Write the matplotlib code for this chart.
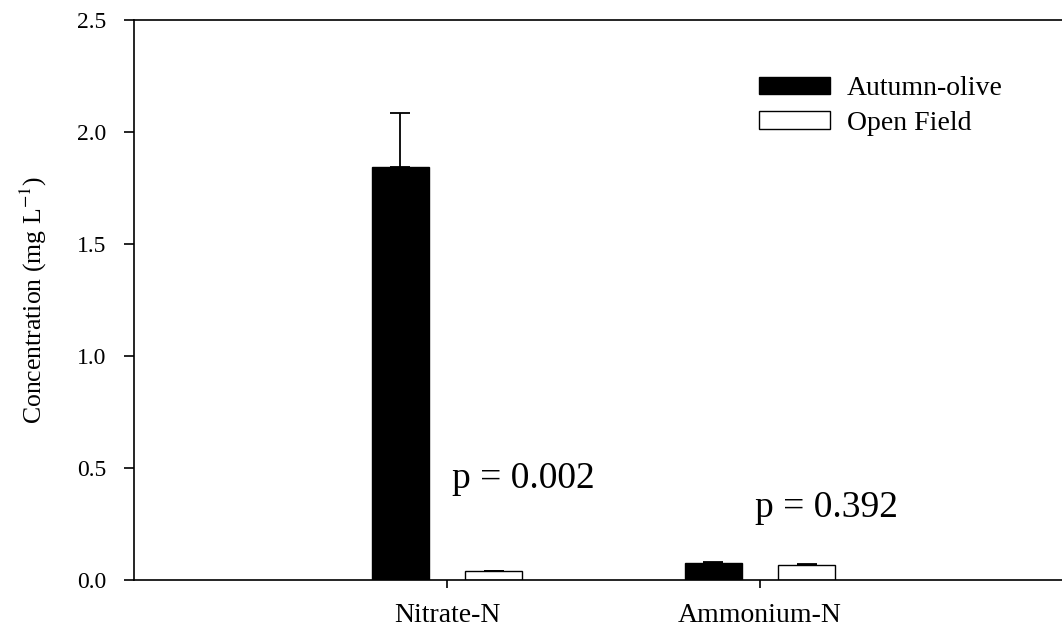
import numpy as np
import matplotlib
matplotlib.use('Agg')
import matplotlib.pyplot as plt
from matplotlib import rcParams

rcParams['font.family'] = ['Liberation Serif', 'DejaVu Serif']
rcParams['mathtext.fontset'] = 'stix'

# data (mg/L)
groups = ['Nitrate-N', 'Ammonium-N']
autumn_olive = [1.844, 0.077]
autumn_olive_err = [0.241, 0.005]
open_field = [0.039, 0.066]
open_field_err = [0.0, 0.004]
pvals = ['p = 0.002', 'p = 0.392']
pval_xy = [(1.016, 0.41), (1.984, 0.281)]

x = np.arange(1, len(groups) + 1)
w = 0.182
off = 0.15

fig = plt.figure(figsize=(10.62, 6.28), dpi=100)
ax = fig.add_axes([134/1062, 48/628, 939/1062, 560/628])

ax.bar(x - off, autumn_olive, w, color='black', edgecolor='black', lw=1,
       label='Autumn-olive')
ax.bar(x + off, open_field, w, color='white', edgecolor='black', lw=1,
       label='Open Field')
# upper error bars only
ax.errorbar(x - off, autumn_olive, yerr=[np.zeros(2), autumn_olive_err],
            fmt='none', ecolor='black', elinewidth=1.3, capsize=7.2,
            capthick=1.3)
ax.errorbar(x + off, open_field, yerr=[np.zeros(2), open_field_err],
            fmt='none', ecolor='black', elinewidth=1.3, capsize=7.2,
            capthick=1.3)

for s, (px, py) in zip(pvals, pval_xy):
    ax.text(px, py, s, fontsize=27, va='baseline', ha='left')

ax.set_xlim(0, 3)
ax.set_ylim(0, 2.5)
ax.set_xticks(x)
ax.set_xticklabels(groups)
ax.set_yticks(np.arange(0, 2.51, 0.5))
ax.set_yticklabels(['%.1f' % v for v in np.arange(0, 2.51, 0.5)])
ax.tick_params(axis='y', direction='out', length=7.2, width=1.2,
               labelsize=17, pad=13)
ax.tick_params(axis='x', direction='out', length=5.8, width=1.2,
               labelsize=20, pad=11)
for sp in ('left', 'bottom', 'top'):
    ax.spines[sp].set_linewidth(1.2)
ax.spines['right'].set_visible(False)

ax.set_ylabel('Concentration (mg L$^{-1}$)', fontsize=18.5, labelpad=20)

leg = ax.legend(loc='upper left', bbox_to_anchor=(759/1062, 1 - 76/628),
                bbox_transform=fig.transFigure, frameon=False, fontsize=20,
                handlelength=2.55, handleheight=0.575, handletextpad=0.61,
                labelspacing=0.35, borderpad=0, borderaxespad=0)

fig.savefig('out.png', dpi=100)
